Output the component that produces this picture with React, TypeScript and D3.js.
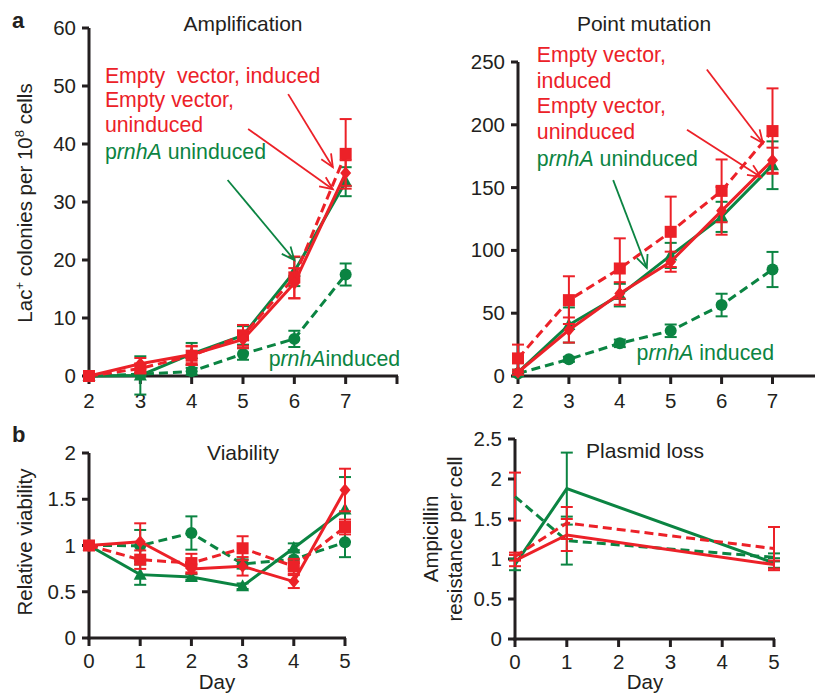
import React from "react";
import * as d3 from "d3";

// ---------- DATA ----------
const daysA = [2, 3, 4, 5, 6, 7];
const ampEVInd = [0, 1.3, 3.5, 7.0, 17.0, 38.3];
const ampEVIndErr = [0.3, 0.8, 1.6, 1.8, 3.6, 6.0];
const ampEVUn = [0, 2.1, 3.7, 6.3, 16.0, 35.0];
const ampEVUnErr = [0.2, 1.0, 1.5, 1.5, 2.6, 2.2];
const ampPUn = [0, 0.1, 3.8, 7.0, 18.0, 33.5];
const ampPUnErr = [0.2, 3.3, 1.9, 1.6, 2.5, 2.5];
const ampPInd = [0, 0.3, 0.8, 3.8, 6.4, 17.5];
const ampPIndErr = [0.1, 0.3, 0.6, 1.0, 1.4, 1.9];

const pmEVInd = [14, 60.4, 85.6, 114.8, 147.4, 195];
const pmEVIndErr = [11, 19, 24, 28, 25, 34];
const pmEVUn = [3, 36.6, 65.7, 91, 131.5, 171.8];
const pmEVUnErr = [2, 10, 9, 8, 19, 10];
const pmPUn = [3, 40.6, 64.4, 96, 126.7, 167.8];
const pmPUnErr = [2, 14, 9, 10, 12, 19];
const pmPInd = [2, 13.3, 26, 36, 56.5, 84.8];
const pmPIndErr = [1, 2, 3, 5, 9, 14];

const daysV = [0, 1, 2, 3, 4, 5];
const vEVInd = [1, 0.847, 0.81, 0.97, 0.775, 1.2];
const vEVIndErr = [0, 0.1, 0.1, 0.13, 0.08, 0.08];
const vEVUn = [1, 1.04, 0.746, 0.775, 0.61, 1.6];
const vEVUnErr = [0, 0.2, 0.05, 0.1, 0.07, 0.23];
const vPUn = [1, 0.685, 0.66, 0.56, 0.973, 1.39];
const vPUnErr = [0, 0.11, 0.03, 0.03, 0.05, 0.35];
const vPInd = [1, 0.998, 1.135, 0.8, 0.85, 1.034];
const vPIndErr = [0, 0.17, 0.18, 0.05, 0.1, 0.16];

const daysP = [0, 1, 5];
const plEVInd = [1.03, 1.45, 1.13];
const plEVIndErr = [0.05, 0.2, 0.27];
const plEVUn = [0.98, 1.3, 0.93];
const plEVUnErr = [0.07, 0.2, 0.05];
const plPUn = [0.93, 1.88, 0.95];
const plPUnErr = [0.07, 0.45, 0.06];
const plPInd = [1.78, 1.23, 1.02];
const plPIndErr = [0.3, 0.3, 0.05];
const plPIndErrColor = ["red", "green", "green"];

const ticksAmpY = [0, 10, 20, 30, 40, 50, 60];
const ticksPmY = [0, 50, 100, 150, 200, 250];
const ticksTopX = [2, 3, 4, 5, 6, 7];
const ticksViaY = [0, 0.5, 1, 1.5, 2];
const ticksPlY = [0, 0.5, 1, 1.5, 2, 2.5];
const ticksBotX = [0, 1, 2, 3, 4, 5];

// ---------- STYLE ----------
const RED = "#ec2128";
const GREEN = "#0b8442";
const INK = "#231f20";
const FONT = "'Liberation Sans', Arial, sans-serif";

type Kind = "square" | "diamond" | "triangle" | "circle" | "none";

function Marker({ kind, x, y, color }: { kind: Kind; x: number; y: number; color: string }) {
  if (kind === "square") return <rect x={x - 6} y={y - 6} width={12} height={12} fill={color} />;
  if (kind === "diamond")
    return <path d={`M${x},${y - 6.5}L${x + 5.5},${y}L${x},${y + 6.5}L${x - 5.5},${y}Z`} fill={color} />;
  if (kind === "triangle")
    return <path d={`M${x},${y - 7}L${x + 6.5},${y + 5}L${x - 6.5},${y + 5}Z`} fill={color} />;
  if (kind === "circle") return <circle cx={x} cy={y} r={6} fill={color} />;
  return null;
}

function Series({ xs, ys, errs, x, y, color, dashed, kind, errColors }: any) {
  const line = d3.line<number>().x((_, i) => x(xs[i])).y((v) => y(v));
  return (
    <g>
      {ys.map((v: number, i: number) => {
        const e = errs[i];
        if (!e) return null;
        const c = errColors ? (errColors[i] === "red" ? RED : GREEN) : color;
        const cx = x(xs[i]);
        return (
          <g key={"e" + i} stroke={c} strokeWidth={2}>
            <line x1={cx} x2={cx} y1={y(v - e)} y2={y(v + e)} />
            <line x1={cx - 6} x2={cx + 6} y1={y(v + e)} y2={y(v + e)} />
            <line x1={cx - 6} x2={cx + 6} y1={y(v - e)} y2={y(v - e)} />
          </g>
        );
      })}
      <path d={line(ys) || ""} fill="none" stroke={color} strokeWidth={3} strokeDasharray={dashed ? "9,5" : undefined} />
      {ys.map((v: number, i: number) => (
        <Marker key={"m" + i} kind={kind} x={x(xs[i])} y={y(v)} color={color} />
      ))}
    </g>
  );
}

function Axes({ x, y, xTicks, yTicks, xEnd, extraXTicks = [], xLabelDy = 32, fmt }: any) {
  const [x0] = x.range();
  const [y0, y1] = y.range();
  return (
    <g fontFamily={FONT} fill={INK}>
      <line x1={x0} x2={x0} y1={y0 + 1.5} y2={y1} stroke={INK} strokeWidth={3} />
      <line x1={x0 - 1.5} x2={xEnd} y1={y0} y2={y0} stroke={INK} strokeWidth={3} />
      {yTicks.map((t: number) => (
        <g key={"y" + t}>
          <line x1={x0 - 7} x2={x0} y1={y(t)} y2={y(t)} stroke={INK} strokeWidth={3} />
          <text x={x0 - 13} y={y(t) + 7} textAnchor="end" fontSize={20.5}>
            {fmt ? fmt(t) : t}
          </text>
        </g>
      ))}
      {[...xTicks, ...extraXTicks].map((t: number) => (
        <line key={"xt" + t} x1={x(t)} x2={x(t)} y1={y0} y2={y0 + 8} stroke={INK} strokeWidth={3} />
      ))}
      {xTicks.map((t: number) => (
        <text key={"x" + t} x={x(t)} y={y0 + xLabelDy} textAnchor="middle" fontSize={20.5}>
          {t}
        </text>
      ))}
    </g>
  );
}

function Arrow({ x1, y1, x2, y2, color }: any) {
  const a = Math.atan2(y2 - y1, x2 - x1);
  const L = 14;
  const s = 0.42;
  const p1 = [x2 - L * Math.cos(a - s), y2 - L * Math.sin(a - s)];
  const p2 = [x2 - L * Math.cos(a + s), y2 - L * Math.sin(a + s)];
  return (
    <g stroke={color} strokeWidth={1.8} fill="none">
      <line x1={x1} y1={y1} x2={x2} y2={y2} />
      <path d={`M${p1[0]},${p1[1]}L${x2},${y2}L${p2[0]},${p2[1]}`} />
    </g>
  );
}

function PrnhA({ x, y, rest, color, anchor = "start", size = 20 }: any) {
  return (
    <text x={x} y={y} fill={color} fontSize={size} fontFamily={FONT} textAnchor={anchor}>
      p<tspan fontStyle="italic">rnhA</tspan>
      {rest}
    </text>
  );
}

export default function App() {
  // scales
  const xA = d3.scaleLinear().domain([2, 8]).range([89, 397]);
  const yA = d3.scaleLinear().domain([0, 60]).range([376, 28]);
  const xB = d3.scaleLinear().domain([2, 8]).range([518, 823.4]);
  const yB = d3.scaleLinear().domain([0, 250]).range([376, 62]);
  const xC = d3.scaleLinear().domain([0, 5]).range([89, 345]);
  const yC = d3.scaleLinear().domain([0, 2]).range([638, 453]);
  const xD = d3.scaleLinear().domain([0, 5]).range([515, 774]);
  const yD = d3.scaleLinear().domain([0, 2.5]).range([639, 439]);

  const ann = 21.3;
  const ttl = 21;

  return (
    <svg width={815} height={695} style={{ position: "absolute", left: 0, top: 0, background: "#fff" }}>
      <rect width={815} height={695} fill="#fff" />
      {/* Panel labels */}
      <text x={12} y={28} fontSize={22} fontWeight="bold" fontFamily={FONT} fill={INK}>a</text>
      <text x={12} y={442} fontSize={22} fontWeight="bold" fontFamily={FONT} fill={INK}>b</text>

      {/* ---------- Amplification ---------- */}
      <text x={243} y={31} fontSize={ttl} textAnchor="middle" fontFamily={FONT} fill={INK}>Amplification</text>
      <text transform="translate(32,203) rotate(-90)" fontSize={20.5} textAnchor="middle" fontFamily={FONT} fill={INK}>
        Lac<tspan dy={-8} fontSize={13}>+</tspan>
        <tspan dy={8}> colonies per 10</tspan>
        <tspan dy={-8} fontSize={13}>8</tspan>
        <tspan dy={8}> cells</tspan>
      </text>
      <Axes x={xA} y={yA} xTicks={ticksTopX} yTicks={ticksAmpY} xEnd={398} extraXTicks={[8]} />
      <Series xs={daysA} ys={ampPInd} errs={ampPIndErr} x={xA} y={yA} color={GREEN} dashed kind="circle" />
      <Series xs={daysA} ys={ampPUn} errs={ampPUnErr} x={xA} y={yA} color={GREEN} kind="triangle" />
      <Series xs={daysA} ys={ampEVInd} errs={ampEVIndErr} x={xA} y={yA} color={RED} dashed kind="square" />
      <Series xs={daysA} ys={ampEVUn} errs={ampEVUnErr} x={xA} y={yA} color={RED} kind="diamond" />
      <g fontFamily={FONT} fontSize={ann}>
        <text x={xA(2.31)} y={yA(50.6)} fill={RED}>{"Empty\u00A0 vector, induced"}</text>
        <text x={xA(2.31)} y={yA(46.3)} fill={RED}>Empty vector,</text>
        <text x={xA(2.31)} y={yA(42.0)} fill={RED}>uninduced</text>
      </g>
      <PrnhA x={xA(2.31)} y={yA(37.5)} rest=" uninduced" color={GREEN} size={ann} />
      <PrnhA x={xA(5.5)} y={yA(1.8)} rest="induced" color={GREEN} size={ann} />
      <Arrow x1={xA(5.88)} y1={yA(48.6)} x2={xA(6.75)} y2={yA(36)} color={RED} />
      <Arrow x1={xA(5.1)} y1={yA(42.6)} x2={xA(6.75)} y2={yA(32.2)} color={RED} />
      <Arrow x1={xA(4.7)} y1={yA(33.8)} x2={xA(6.0)} y2={yA(20)} color={GREEN} />

      {/* ---------- Point mutation ---------- */}
      <text x={644} y={31} fontSize={ttl} textAnchor="middle" fontFamily={FONT} fill={INK}>Point mutation</text>
      <Axes x={xB} y={yB} xTicks={ticksTopX} yTicks={ticksPmY} xEnd={815} />
      <Series xs={daysA} ys={pmPInd} errs={pmPIndErr} x={xB} y={yB} color={GREEN} dashed kind="circle" />
      <Series xs={daysA} ys={pmPUn} errs={pmPUnErr} x={xB} y={yB} color={GREEN} kind="triangle" />
      <Series xs={daysA} ys={pmEVInd} errs={pmEVIndErr} x={xB} y={yB} color={RED} dashed kind="square" />
      <Series xs={daysA} ys={pmEVUn} errs={pmEVUnErr} x={xB} y={yB} color={RED} kind="diamond" />
      <g fontFamily={FONT} fontSize={ann}>
        <text x={xB(2.37)} y={yB(250)} fill={RED}>Empty vector,</text>
        <text x={xB(2.37)} y={yB(229.5)} fill={RED}>induced</text>
        <text x={xB(2.37)} y={yB(209)} fill={RED}>Empty vector,</text>
        <text x={xB(2.37)} y={yB(188.5)} fill={RED}>uninduced</text>
      </g>
      <PrnhA x={xB(2.37)} y={yB(167)} rest=" uninduced" color={GREEN} size={ann} />
      <PrnhA x={xB(4.33)} y={yB(13)} rest=" induced" color={GREEN} size={ann} />
      <Arrow x1={xB(5.71)} y1={yB(244)} x2={xB(6.81)} y2={yB(185.5)} color={RED} />
      <Arrow x1={xB(5.32)} y1={yB(196)} x2={xB(6.77)} y2={yB(158.4)} color={RED} />
      <Arrow x1={xB(3.87)} y1={yB(156)} x2={xB(4.53)} y2={yB(86)} color={GREEN} />

      {/* ---------- Viability ---------- */}
      <text x={243} y={460} fontSize={ttl} textAnchor="middle" fontFamily={FONT} fill={INK}>Viability</text>
      <text transform="translate(32,542) rotate(-90)" fontSize={20.5} textAnchor="middle" fontFamily={FONT} fill={INK}>
        Relative viability
      </text>
      <text x={217} y={689} fontSize={20.5} textAnchor="middle" fontFamily={FONT} fill={INK}>Day</text>
      <Axes x={xC} y={yC} xTicks={ticksBotX} yTicks={ticksViaY} xEnd={346} xLabelDy={30} />
      <Series xs={daysV} ys={vPInd} errs={vPIndErr} x={xC} y={yC} color={GREEN} dashed kind="circle" />
      <Series xs={daysV} ys={vPUn} errs={vPUnErr} x={xC} y={yC} color={GREEN} kind="triangle" />
      <Series xs={daysV} ys={vEVInd} errs={vEVIndErr} x={xC} y={yC} color={RED} dashed kind="square" />
      <Series xs={daysV} ys={vEVUn} errs={vEVUnErr} x={xC} y={yC} color={RED} kind="diamond" />

      {/* ---------- Plasmid loss ---------- */}
      <text x={645} y={458} fontSize={ttl} textAnchor="middle" fontFamily={FONT} fill={INK}>Plasmid loss</text>
      <text transform="translate(438,539) rotate(-90)" fontSize={20.5} textAnchor="middle" fontFamily={FONT} fill={INK}>
        Ampicillin
      </text>
      <text transform="translate(462,539) rotate(-90)" fontSize={20.5} textAnchor="middle" fontFamily={FONT} fill={INK}>
        resistance per cell
      </text>
      <text x={645} y={689} fontSize={20.5} textAnchor="middle" fontFamily={FONT} fill={INK}>Day</text>
      <Axes x={xD} y={yD} xTicks={ticksBotX} yTicks={ticksPlY} xEnd={775} xLabelDy={30} />
      <Series xs={daysP} ys={plPInd} errs={plPIndErr} errColors={plPIndErrColor} x={xD} y={yD} color={GREEN} dashed kind="none" />
      <Series xs={daysP} ys={plPUn} errs={plPUnErr} x={xD} y={yD} color={GREEN} kind="none" />
      <Series xs={daysP} ys={plEVInd} errs={plEVIndErr} x={xD} y={yD} color={RED} dashed kind="none" />
      <Series xs={daysP} ys={plEVUn} errs={plEVUnErr} x={xD} y={yD} color={RED} kind="none" />
    </svg>
  );
}
